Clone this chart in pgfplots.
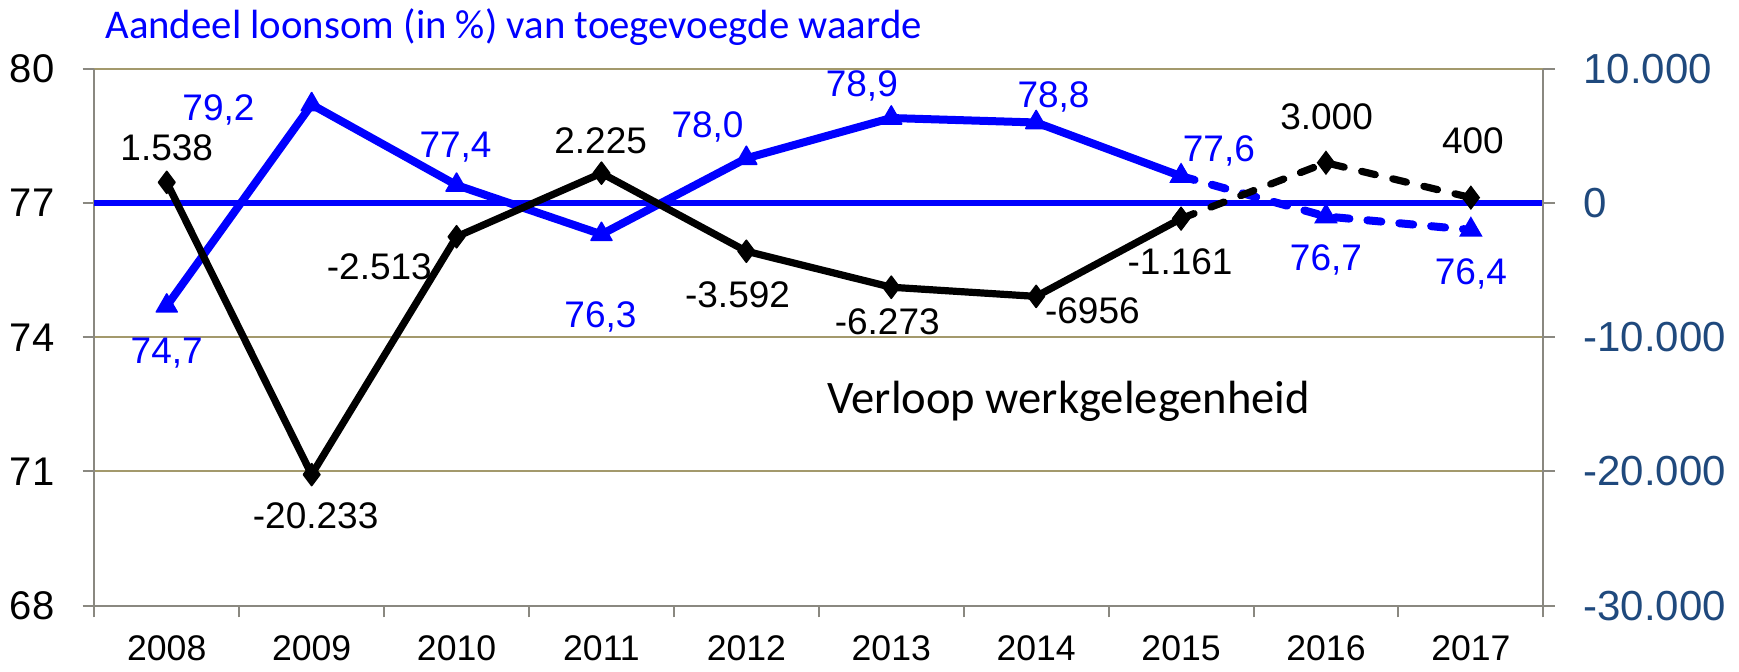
\documentclass[border=0pt]{standalone}
\usepackage{pgfplots}
\pgfplotsset{compat=1.18}
\usepackage{pgfplotstable}
\usepackage{fontspec}
\setmainfont{Liberation Sans}
\newfontfamily\calib{Carlito}
\definecolor{axgray}{RGB}{138,136,128}
\definecolor{gridc}{RGB}{163,153,108}
\definecolor{rblue}{RGB}{31,73,125}
\definecolor{lblue}{RGB}{0,0,255}

\pgfplotstableread{
x v
0 74.7
1 79.2
2 77.4
3 76.3
4 78.0
5 78.9
6 78.8
7 77.6
}\blueSolid
\pgfplotstableread{
x v
7 77.6
8 76.7
9 76.4
}\blueDash
\pgfplotstableread{
x v
0 1538
1 -20233
2 -2513
3 2225
4 -3592
5 -6273
6 -6956
7 -1161
}\blackSolid
\pgfplotstableread{
x v
7 -1161
8 3000
9 400
}\blackDash

\tikzset{lab/.style={anchor=base, inner sep=0pt, font=\fontsize{18.5}{20}\selectfont, yshift=-6.6pt}}

\begin{document}
\begin{tikzpicture}
\begin{axis}[
  at={(0,0)}, anchor=south west, scale only axis,
  width=724.5pt, height=268.45pt,
  xmin=-0.5, xmax=9.5, ymin=68, ymax=80,
  clip=false,
  axis x line*=bottom, axis y line*=left,
  axis line style={draw=axgray, line width=1pt},
  xtick={0,...,9},
  xticklabels={2008,2009,2010,2011,2012,2013,2014,2015,2016,2017},
  minor xtick={-0.5,0.5,...,9.5},
  major x tick style={draw=none},
  minor x tick style={draw=axgray, line width=1pt},
  ytick={68,71,74,77,80}, yticklabels={68,71,74,77,80},
  y tick style={draw=axgray, line width=1pt},
  tick align=outside, major tick length=5.8pt, minor tick length=5.8pt,
  ymajorgrids, major grid style={draw=gridc, line width=1pt},
  yticklabel style={font=\fontsize{20}{22}\selectfont, inner sep=0pt, anchor=east, xshift=-14pt},
  xticklabel style={font=\fontsize{17.8}{20}\selectfont, inner sep=0pt, anchor=north, yshift=-9pt},
]
\addplot[lblue, line width=3.2pt, forget plot] coordinates {(-0.5,77) (9.5,77)};
\addplot[lblue, line width=4pt, line join=round, mark=triangle*, mark size=6pt,
  mark options={solid, line width=0.8pt}] table[x=x,y=v] {\blueSolid};
\addplot[lblue, line width=4pt, line cap=round, dash pattern=on 7pt off 9pt,
  mark=triangle*, mark size=6pt, mark options={solid, line width=0.8pt}] table[x=x,y=v] {\blueDash};

\node[lab, lblue, yshift=-22pt] at (axis cs:0,74.7) {74,7};
\node[lab, lblue, xshift=-46.6pt, yshift=-1.5pt] at (axis cs:1,79.2) {79,2};
\node[lab, lblue, xshift=-0.5pt, yshift=20.5pt] at (axis cs:2,77.4) {77,4};
\node[lab, lblue, xshift=-0.5pt, yshift=-39.8pt] at (axis cs:3,76.3) {76,3};
\node[lab, lblue, xshift=-19.4pt, yshift=17pt] at (axis cs:4,78.0) {78,0};
\node[lab, lblue, xshift=-14.7pt, yshift=17.4pt] at (axis cs:5,78.9) {78,9};
\node[lab, lblue, xshift=8.7pt, yshift=14pt] at (axis cs:6,78.8) {78,8};
\node[lab, lblue, xshift=18.9pt, yshift=14pt] at (axis cs:7,77.6) {77,6};
\node[lab, lblue, yshift=-20.5pt] at (axis cs:8,76.7) {76,7};
\node[lab, lblue, yshift=-20.8pt] at (axis cs:9,76.4) {76,4};

\node[anchor=base west, inner sep=0pt, lblue, font=\calib\fontsize{20.4}{24}\selectfont,
  xshift=5.35pt, yshift=15.25pt] at (rel axis cs:0,1) {Aandeel loonsom (in \%) van toegevoegde waarde};
\node[anchor=base west, inner sep=0pt, black, font=\calib\fontsize{23.3}{26}\selectfont,
  xshift=366.35pt, yshift=96.35pt] at (rel axis cs:0,0) {Verloop werkgelegenheid};
\end{axis}

\begin{axis}[
  at={(0,0)}, anchor=south west, scale only axis,
  width=724.5pt, height=268.45pt,
  xmin=-0.5, xmax=9.5, ymin=-30000, ymax=10000,
  clip=false,
  axis x line=none, axis y line*=right,
  axis line style={draw=axgray, line width=1pt},
  ytick={-30000,-20000,-10000,0,10000},
  yticklabels={-30.000,-20.000,-10.000,0,10.000},
  scaled y ticks=false,
  y tick style={draw=axgray, line width=1pt},
  tick align=outside, major tick length=5.8pt,
  yticklabel style={font=\fontsize{21}{24}\selectfont, text=rblue, inner sep=0pt, anchor=west, xshift=14pt},
]
\addplot[black, line width=3.6pt, line join=round, mark=diamond*, mark size=5.5pt,
  mark options={solid, line width=0.8pt}] table[x=x,y=v] {\blackSolid};
\addplot[black, line width=3.6pt, line cap=round, dash pattern=on 7pt off 9pt,
  mark=diamond*, mark size=5.5pt, mark options={solid, line width=0.8pt}] table[x=x,y=v] {\blackDash};

\node[lab, yshift=17.5pt] at (axis cs:0,1538) {1.538};
\node[lab, xshift=2pt, yshift=-20.5pt] at (axis cs:1,-20233) {-20.233};
\node[lab, xshift=-38.6pt, yshift=-14.7pt] at (axis cs:2,-2513) {-2.513};
\node[lab, xshift=-0.4pt, yshift=16.2pt] at (axis cs:3,2225) {2.225};
\node[lab, xshift=-4.4pt, yshift=-21.3pt] at (axis cs:4,-3592) {-3.592};
\node[lab, xshift=-2pt, yshift=-17.2pt] at (axis cs:5,-6273) {-6.273};
\node[lab, xshift=28.1pt, yshift=-7pt] at (axis cs:6,-6956) {-6956};
\node[lab, xshift=-0.5pt, yshift=-21.5pt] at (axis cs:7,-1161) {-1.161};
\node[lab, xshift=0.3pt, yshift=23.2pt] at (axis cs:8,3000) {3.000};
\node[lab, xshift=1pt, yshift=28.5pt] at (axis cs:9,400) {400};
\end{axis}
\pgfresetboundingbox
\path[use as bounding box] (-47.15pt,-32.65pt) rectangle (822.35pt,302.85pt);
\end{tikzpicture}
\end{document}
